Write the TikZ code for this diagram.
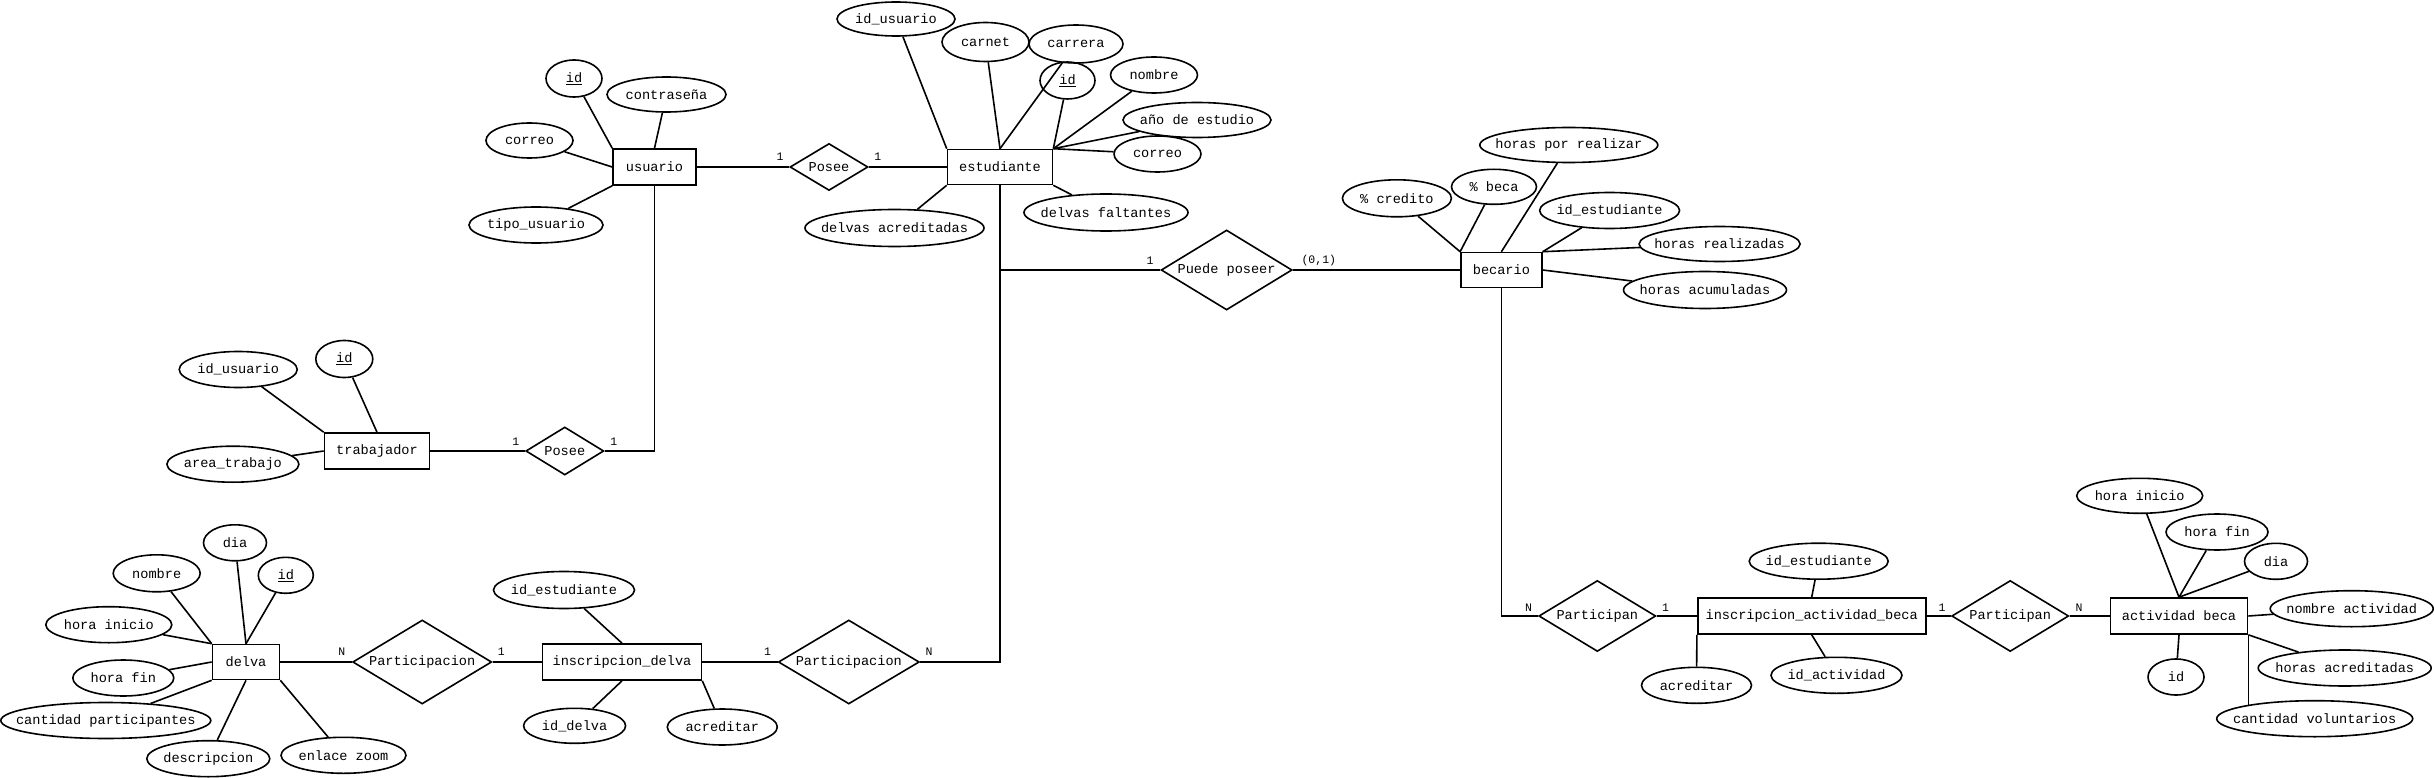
\documentclass[tikz,border=0pt]{standalone}
\usepackage{fontspec}
\usetikzlibrary{shapes.geometric}
\newfontfamily\ermono{Liberation Mono}
\newcommand{\erfont}{\ermono\fontsize{13.6}{16}\selectfont}
\newcommand{\cdfont}{\ermono\fontsize{11.5}{14}\selectfont}
\newcommand{\zb}[1]{\makebox[0pt]{#1}}
\tikzset{
  ent/.style={draw, rectangle, line width=1.6pt, inner sep=0pt, font=\erfont},
  rel/.style={draw, diamond, line width=1.6pt, inner sep=0pt, font=\erfont},
  attr/.style={draw, ellipse, line width=1.6pt, inner sep=0pt, font=\erfont},
  card/.style={inner sep=0pt, font=\cdfont},
  conn/.style={line width=1.6pt},
}
\newcommand{\atn}[6]{\node[attr, minimum width=#4pt, minimum height=#5pt] (#1) at (#2,#3) {\zb{#6}};}
\newcommand{\enn}[6]{\node[ent, minimum width=#4pt, minimum height=#5pt] (#1) at (#2,#3) {\zb{#6}};}
\newcommand{\rln}[6]{\node[rel, minimum width=#4pt, minimum height=#5pt] (#1) at (#2,#3) {\zb{#6}};}
\begin{document}
\begin{tikzpicture}[x=1pt, y=-1pt]
\useasboundingbox (0,0) rectangle (2434,778);
% entities
\enn{usu}{654.5}{167}{83}{36}{usuario}
\enn{est}{1000}{167}{105}{35}{estudiante}
\enn{bec}{1501.4}{270}{81}{35}{becario}
\enn{trab}{377}{451}{105}{36}{trabajador}
\enn{delva}{246}{662}{67}{35}{delva}
\enn{insd}{622}{662}{159}{36}{inscripcion\_delva}
\enn{insab}{1811.7}{616}{228}{36}{inscripcion\_actividad\_beca}
\enn{actb}{2179}{616}{137}{36}{actividad beca}
% relationships
\rln{pos1}{829}{167}{78}{47}{Posee}
\rln{pos2}{564.8}{451}{78}{48}{Posee}
\rln{pp}{1226.6}{270}{131}{80}{Puede poseer}
\rln{partL}{422.2}{662}{139}{84}{Participacion}
\rln{partR}{848.8}{662}{141}{84}{Participacion}
\rln{pA}{1597.3}{616}{117}{71}{Participan}
\rln{pB}{2010.2}{616}{117}{71}{Participan}
% attributes usuario
\atn{u_id}{574}{78.5}{56}{37}{\underline{id}}
\atn{u_con}{666.5}{94.5}{119}{35}{contraseña}
\atn{u_cor}{529.5}{140.5}{87}{35}{correo}
\atn{u_tip}{536}{225}{134}{36}{tipo\_usuario}
% attributes estudiante
\atn{e_idu}{896}{19}{118}{34}{id\_usuario}
\atn{e_car}{985.5}{42}{87}{39}{carnet}
\atn{e_carr}{1076}{44}{94}{38}{carrera}
\atn{e_id}{1067.5}{80.5}{55}{37}{\underline{id}}
\atn{e_nom}{1154}{75}{87}{36}{nombre}
\atn{e_ano}{1197}{120}{148}{35}{año de estudio}
\atn{e_cor}{1157.5}{154}{87}{36}{correo}
\atn{e_df}{1106}{212.5}{164}{37}{delvas faltantes}
\atn{e_da}{894.5}{228}{179}{37}{delvas acreditadas}
% attributes becario
\atn{b_cre}{1396.9}{198.3}{109}{37}{\% credito}
\atn{b_bec}{1494}{186.8}{85}{35}{\% beca}
\atn{b_hpr}{1568.8}{145}{178}{35}{horas por realizar}
\atn{b_ide}{1609.6}{210.5}{140}{36}{id\_estudiante}
\atn{b_hr}{1719.6}{244}{161}{35}{horas realizadas}
\atn{b_ha}{1705}{290}{163}{37}{horas acumuladas}
% attributes trabajador
\atn{t_idu}{238.2}{369.5}{118}{36}{id\_usuario}
\atn{t_id}{344.3}{359}{57}{37}{\underline{id}}
\atn{t_area}{232.9}{464.2}{132}{36}{area\_trabajo}
% attributes delva
\atn{d_dia}{235}{542.8}{63}{36}{dia}
\atn{d_nom}{156.7}{573.3}{87}{37}{nombre}
\atn{d_id}{285.8}{575.3}{55}{36}{\underline{id}}
\atn{d_hi}{108.8}{624.7}{126}{36}{hora inicio}
\atn{d_hf}{123.3}{678}{101}{36}{hora fin}
\atn{d_cp}{105.8}{720.5}{210}{36}{cantidad participantes}
\atn{d_des}{208.3}{758.7}{123}{36}{descripcion}
\atn{d_enl}{343.5}{755.3}{125}{36}{enlace zoom}
% attributes inscripcion_delva
\atn{i_ide}{564}{590}{141}{37}{id\_estudiante}
\atn{i_idd}{574.6}{725.8}{102}{35}{id\_delva}
\atn{i_acr}{722.3}{727}{110}{36}{acreditar}
% attributes inscripcion_actividad_beca
\atn{a_ide}{1818.7}{561.2}{139}{36}{id\_estudiante}
\atn{a_acr}{1696.5}{685.3}{110}{36}{acreditar}
\atn{a_ida}{1836.5}{675.3}{131}{36}{id\_actividad}
% attributes actividad beca
\atn{c_hi}{2139.7}{495.8}{126}{35}{hora inicio}
\atn{c_hf}{2217}{532}{102}{36}{hora fin}
\atn{c_dia}{2276}{561.3}{63}{36}{dia}
\atn{c_nom}{2351.7}{608.7}{163}{36}{nombre actividad}
\atn{c_ha}{2344.7}{668}{173}{36}{horas acreditadas}
\atn{c_id}{2176}{677}{56}{36}{id}
\atn{c_cv}{2314.7}{718.7}{196}{36}{cantidad voluntarios}
% attribute connectors
\draw[conn] (u_id) -- (usu.north west);
\draw[conn] (u_con) -- (usu.north);
\draw[conn] (u_cor) -- (usu.west);
\draw[conn] (u_tip) -- (usu.south west);
\draw[conn] (e_idu) -- (est.north west);
\draw[conn] (e_car) -- (est.north);
\draw[conn] (e_carr) -- (est.north);
\draw[conn] (e_id) -- (est.north east);
\draw[conn] (e_nom) -- (est.north east);
\draw[conn] (e_ano) -- (est.north east);
\draw[conn] (e_cor) -- (est.north east);
\draw[conn] (e_df) -- (est.south east);
\draw[conn] (e_da) -- (est.south west);
\draw[conn] (b_cre) -- (bec.north west);
\draw[conn] (b_bec) -- (bec.north west);
\draw[conn] (b_hpr) -- (bec.north);
\draw[conn] (b_ide) -- (bec.north east);
\draw[conn] (b_hr) -- (bec.north east);
\draw[conn] (b_ha) -- (bec.east);
\draw[conn] (t_idu) -- (trab.north west);
\draw[conn] (t_id) -- (trab.north);
\draw[conn] (t_area) -- (trab.west);
\draw[conn] (d_nom) -- (delva.north west);
\draw[conn] (d_hi) -- (delva.north west);
\draw[conn] (d_dia) -- (delva.north);
\draw[conn] (d_id) -- (delva.north);
\draw[conn] (d_hf) -- (delva.west);
\draw[conn] (d_cp) -- (delva.south west);
\draw[conn] (d_des) -- (delva.south);
\draw[conn] (d_enl) -- (delva.south east);
\draw[conn] (i_ide) -- (insd.north);
\draw[conn] (i_idd) -- (insd.south);
\draw[conn] (i_acr) -- (insd.south east);
\draw[conn] (a_ide) -- (insab.north);
\draw[conn] (a_ida) -- (insab.south);
\draw[conn] (a_acr) -- (insab.south west);
\draw[conn] (c_hi) -- (actb.north);
\draw[conn] (c_hf) -- (actb.north);
\draw[conn] (c_dia) -- (actb.north);
\draw[conn] (c_nom) -- (actb.east);
\draw[conn] (c_ha) -- (actb.south east);
\draw[conn] (c_id) -- (actb.south);
\draw[conn] (actb.south east) -- (actb.south east |- c_cv.north west);
% relationship connectors
\draw[conn] (usu.east) -- (pos1.west);
\draw[conn] (pos1.east) -- (est.west);
\draw[conn] (trab.east) -- (pos2.west);
\draw[conn] (pos2.east) -- (usu.south |- pos2.east) -- (usu.south);
\draw[conn] (est.south) -- (est.south |- partR.east) -- (partR.east);
\draw[conn] (est.south |- pp.west) -- (pp.west);
\draw[conn] (pp.east) -- (bec.west);
\draw[conn] (delva.east) -- (partL.west);
\draw[conn] (partL.east) -- (insd.west);
\draw[conn] (insd.east) -- (partR.west);
\draw[conn] (bec.south) -- (bec.south |- pA.west) -- (pA.west);
\draw[conn] (pA.east) -- (insab.west);
\draw[conn] (insab.east) -- (pB.west);
\draw[conn] (pB.east) -- (actb.west);
% cardinalities
\node[card] (k1) at (780,157) {1};
\node[card] (k2) at (877.7,157) {1};
\node[card] (k3) at (515.8,441.7) {1};
\node[card] (k4) at (613.7,441.7) {1};
\node[card] (k5) at (1150,260.7) {1};
\node[card] (k6) at (1318.8,260.7) {(0,1)};
\node[card] (k7) at (341.7,651.7) {N};
\node[card] (k8) at (501.4,651.7) {1};
\node[card] (k9) at (767.5,651.7) {1};
\node[card] (k10) at (929,651.7) {N};
\node[card] (k11) at (1528.6,607.3) {N};
\node[card] (k12) at (1665.6,607.3) {1};
\node[card] (k13) at (1942,607.3) {1};
\node[card] (k14) at (2079,607.3) {N};
\end{tikzpicture}
\end{document}
